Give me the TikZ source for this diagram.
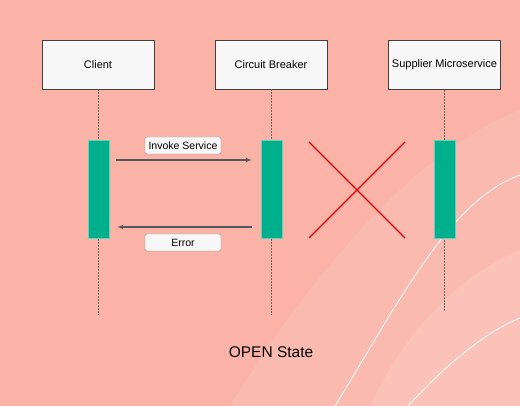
\documentclass[tikz,border=0pt]{standalone}
\usepackage{fontspec}
\setmainfont{Liberation Sans}
\usepackage{tikz}
\usetikzlibrary{arrows,positioning}
\definecolor{salmon}{RGB}{250,179,166}
\definecolor{barteal}{RGB}{0,175,140}
\definecolor{msggray}{RGB}{85,88,95}
\tikzset{
    %Define standard arrow tip
    >=latex',
    %Define style for participant boxes
    actor/.style={
           rectangle,
           draw=black!75, semithick,
           fill=white!97!black,
           minimum width=112pt,
           minimum height=49pt,
           inner sep=1pt,
           font=\fontsize{11}{13}\selectfont,
           text centered},
    %Define style for activation bars
    bar/.style={
           rectangle,
           draw=barteal!60!white, thin,
           fill=barteal,
           minimum width=21pt,
           minimum height=98pt,
           inner sep=0pt},
    %Define style for message labels
    tag/.style={
           rectangle,
           rounded corners=1.5pt,
           draw=black!45, thin,
           fill=white!97!black,
           minimum width=76pt,
           minimum height=17pt,
           inner sep=1pt,
           font=\fontsize{10.5}{12}\selectfont},
    % Define line styles
    lifeline/.style={
           draw=black!60, thin,
           dash pattern=on 2pt off 1pt},
    msg/.style={
           ->,
           draw=msggray, line width=1.1pt},
    cross/.style={
           draw=red!90!black, line width=1.2pt},
    waveline/.style={
           draw=white, line width=0.8pt}
}
\begin{document}
\begin{tikzpicture}[x=1pt,y=-1pt]
\useasboundingbox (0,0) rectangle (520,406);
% background
\fill[salmon] (0,0) rectangle (520,406);
\fill[white,opacity=.10] (230,406) .. controls (320,260) and (420,150) .. (520,110) -- (520,406) -- cycle;
\fill[white,opacity=.12] (370,406) .. controls (410,320) and (470,270) .. (520,250) -- (520,406) -- cycle;
\draw[waveline] (335,406) .. controls (400,300) and (450,200) .. (520,175);
\draw[waveline] (408,406) .. controls (450,360) and (490,330) .. (520,318);
% participants
\node[actor] (client) at (98,64.5) {Client};
\node[actor] (breaker) at (271,64.5) {Circuit Breaker};
\node[actor] (supplier) at (444.5,65) {Supplier Microservice};
\coordinate (clientend) at (98,315);
\coordinate (breakerend) at (271,315);
\coordinate (supplierend) at (444.5,311);
\draw[lifeline] (client) -- (clientend);
\draw[lifeline] (breaker) -- (breakerend);
\draw[lifeline] (supplier) -- (supplierend);
% activation bars
\node[bar] (clientbar) at (98.5,189) {};
\node[bar] (breakerbar) at (271.5,189) {};
\node[bar] (supplierbar) at (444.5,189) {};
% messages
\draw[msg, shorten <=7pt, shorten >=9pt] ([yshift=29pt]clientbar.east) -- ([yshift=29pt]breakerbar.west);
\draw[msg, shorten <=9pt, shorten >=8pt] ([yshift=-38pt]breakerbar.west) -- ([yshift=-38pt]clientbar.east);
\node[tag] (invoke) at (183,145.5) {Invoke Service};
\node[tag] (error) at (183,242.5) {Error};
% broken link
\coordinate (xa) at (309,142);
\coordinate (xb) at (405,238);
\coordinate (xc) at (405,142);
\coordinate (xd) at (309,238);
\draw[cross] (xa) -- (xb);
\draw[cross] (xc) -- (xd);
\node[font=\fontsize{15.5}{18}\selectfont] (state) at (271,352) {OPEN State};
\end{tikzpicture}
\end{document}
